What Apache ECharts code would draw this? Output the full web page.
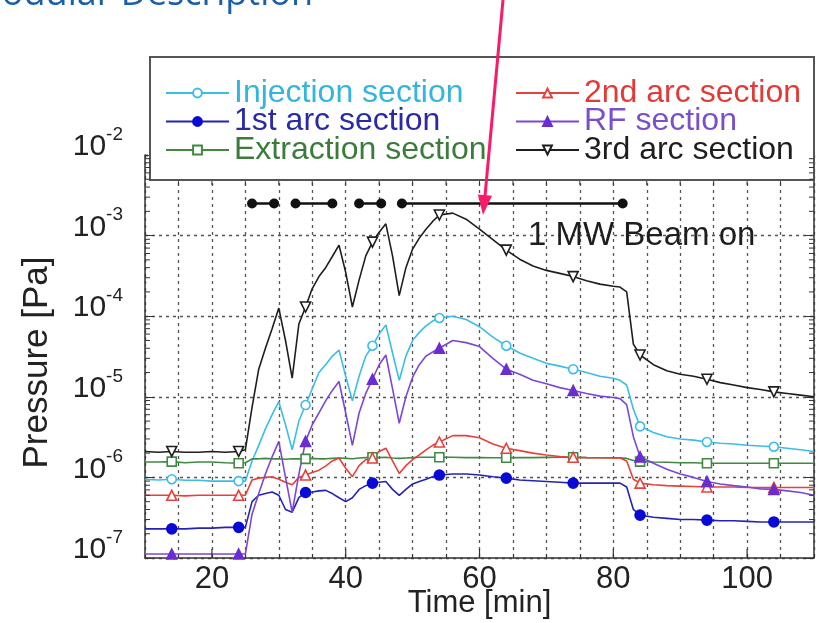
<!DOCTYPE html>
<html>
<head>
<meta charset="utf-8">
<script src="https://cdn.jsdelivr.net/npm/echarts@6/dist/echarts.min.js"></script>
<style>
  html, body { margin: 0; padding: 0; background: #fff; }
  #chart { width: 819px; height: 623px; }
</style>
</head>
<body>
<div id="chart"></div>
<script>
// Time axis of the pressure log [min]
const minutes = [10, 12, 14, 16, 18, 20, 22, 24,
  25, 26, 27, 28, 29, 30, 31, 32, 33, 34, 35, 36, 37, 38, 39, 40, 41, 42, 43, 44,
  45, 46, 47, 48, 49, 50, 51, 52, 53, 54,
  56, 58, 60, 62, 64, 66, 68, 70, 72, 74, 76, 78, 80,
  81, 82, 83, 84,
  86, 88, 90, 92, 94, 96, 98, 100, 102, 104, 106, 108, 110];

// Minutes at which a marker is drawn on each curve
const markerMinutes = [14, 24, 34, 44, 54, 64, 74, 84, 94, 104];

// Pressure per section [Pa]
const injection = [9.5e-7, 9.3e-7, 9.5e-7, 9.2e-7, 9.2e-7, 9.0e-7, 9.0e-7, 9.0e-7,
  9.0e-7, 1.6e-6, 2.5e-6, 4.0e-6, 6.0e-6, 8.7e-6, 4.5e-6, 2.2e-6, 5.0e-6, 7.9e-6, 1.26e-5, 2.0e-5,
  2.5e-5, 3.2e-5, 3.8e-5, 1.8e-5, 8.9e-6, 1.8e-5, 3.2e-5, 4.3e-5, 6.0e-5, 7.8e-5, 3.5e-5, 1.6e-5,
  3.2e-5, 5.0e-5, 6.3e-5, 7.6e-5, 8.7e-5, 9.5e-5,
  1.0e-4, 9.1e-5, 7.4e-5, 5.5e-5, 4.3e-5, 3.5e-5, 3.0e-5, 2.6e-5, 2.4e-5, 2.2e-5, 2.0e-5, 1.8e-5, 1.7e-5,
  1.6e-5, 1.4e-5, 7.0e-6, 4.3e-6,
  3.6e-6, 3.2e-6, 3.0e-6, 2.9e-6, 2.75e-6, 2.65e-6, 2.6e-6, 2.5e-6, 2.45e-6, 2.4e-6, 2.3e-6, 2.2e-6, 2.1e-6];

const firstArc = [2.3e-7, 2.3e-7, 2.3e-7, 2.3e-7, 2.35e-7, 2.35e-7, 2.4e-7, 2.4e-7,
  2.4e-7, 5.0e-7, 6.0e-7, 6.3e-7, 6.6e-7, 6.0e-7, 4.0e-7, 3.7e-7, 5.6e-7, 6.5e-7, 6.6e-7, 6.8e-7,
  6.9e-7, 6.3e-7, 5.6e-7, 5.0e-7, 5.6e-7, 7.1e-7, 7.9e-7, 8.5e-7, 8.7e-7, 8.9e-7, 7.1e-7, 6.0e-7,
  7.1e-7, 8.3e-7, 8.9e-7, 9.5e-7, 1.02e-6, 1.07e-6,
  1.1e-6, 1.1e-6, 1.07e-6, 1.02e-6, 9.8e-7, 9.3e-7, 9.1e-7, 8.9e-7, 8.7e-7, 8.5e-7, 8.5e-7, 8.5e-7, 8.5e-7,
  8.5e-7, 7.6e-7, 4.0e-7, 3.4e-7,
  3.2e-7, 3.1e-7, 3.0e-7, 3.0e-7, 2.95e-7, 2.9e-7, 2.9e-7, 2.85e-7, 2.8e-7, 2.8e-7, 2.8e-7, 2.8e-7, 2.8e-7];

const extraction = [1.55e-6, 1.55e-6, 1.57e-6, 1.52e-6, 1.55e-6, 1.55e-6, 1.52e-6, 1.5e-6,
  1.52e-6, 1.7e-6, 1.7e-6, 1.72e-6, 1.7e-6, 1.7e-6, 1.68e-6, 1.7e-6, 1.7e-6, 1.7e-6, 1.72e-6, 1.7e-6,
  1.7e-6, 1.72e-6, 1.74e-6, 1.72e-6, 1.7e-6, 1.74e-6, 1.76e-6, 1.78e-6, 1.76e-6, 1.78e-6, 1.74e-6, 1.72e-6,
  1.74e-6, 1.76e-6, 1.78e-6, 1.78e-6, 1.78e-6, 1.78e-6,
  1.78e-6, 1.76e-6, 1.76e-6, 1.75e-6, 1.75e-6, 1.76e-6, 1.76e-6, 1.77e-6, 1.78e-6, 1.78e-6, 1.76e-6, 1.75e-6, 1.75e-6,
  1.75e-6, 1.72e-6, 1.62e-6, 1.57e-6,
  1.55e-6, 1.54e-6, 1.52e-6, 1.52e-6, 1.5e-6, 1.5e-6, 1.5e-6, 1.5e-6, 1.5e-6, 1.5e-6, 1.5e-6, 1.5e-6, 1.5e-6];

const secondArc = [6.0e-7, 6.0e-7, 6.0e-7, 5.9e-7, 6.0e-7, 6.0e-7, 6.0e-7, 6.0e-7,
  6.0e-7, 9.3e-7, 9.8e-7, 1.0e-6, 1.02e-6, 9.5e-7, 8.7e-7, 8.1e-7, 1.0e-6, 1.07e-6, 1.15e-6, 1.23e-6,
  1.38e-6, 1.6e-6, 1.74e-6, 1.3e-6, 1.02e-6, 1.4e-6, 1.66e-6, 1.74e-6, 2.1e-6, 2.3e-6, 1.6e-6, 1.12e-6,
  1.4e-6, 1.66e-6, 1.9e-6, 2.2e-6, 2.5e-6, 2.75e-6,
  3.3e-6, 3.3e-6, 3.1e-6, 2.6e-6, 2.3e-6, 2.15e-6, 2.0e-6, 1.9e-6, 1.82e-6, 1.78e-6, 1.76e-6, 1.75e-6, 1.74e-6,
  1.74e-6, 1.6e-6, 9.5e-7, 8.5e-7,
  8.1e-7, 7.9e-7, 7.8e-7, 7.7e-7, 7.6e-7, 7.6e-7, 7.6e-7, 7.5e-7, 7.5e-7, 7.5e-7, 7.5e-7, 7.5e-7, 7.5e-7];

const rfSection = [1.12e-7, 1.12e-7, 1.12e-7, 1.12e-7, 1.12e-7, 1.12e-7, 1.12e-7, 1.12e-7,
  1.12e-7, 3.5e-7, 6.3e-7, 1.1e-6, 1.8e-6, 2.8e-6, 1.0e-6, 3.7e-7, 1.1e-6, 2.8e-6, 4.5e-6, 6.3e-6,
  8.9e-6, 1.2e-5, 1.55e-5, 6.3e-6, 2.5e-6, 6.3e-6, 1.1e-5, 1.65e-5, 2.5e-5, 3.3e-5, 1.26e-5, 4.7e-6,
  1.0e-5, 1.75e-5, 2.5e-5, 3.2e-5, 3.6e-5, 4.0e-5,
  5.0e-5, 4.7e-5, 4.2e-5, 3.0e-5, 2.2e-5, 1.9e-5, 1.6e-5, 1.45e-5, 1.3e-5, 1.2e-5, 1.1e-5, 1.02e-5, 9.8e-6,
  9.5e-6, 8.0e-6, 3.2e-6, 1.8e-6,
  1.5e-6, 1.26e-6, 1.1e-6, 1.0e-6, 8.9e-7, 8.3e-7, 7.9e-7, 7.6e-7, 7.2e-7, 7.1e-7, 6.8e-7, 6.5e-7, 6.0e-7];

const thirdArc = [2.1e-6, 2.05e-6, 2.1e-6, 2.05e-6, 2.05e-6, 2.1e-6, 2.05e-6, 2.1e-6,
  2.2e-6, 7.4e-6, 2.2e-5, 4.0e-5, 7.0e-5, 1.26e-4, 5.0e-5, 1.7e-5, 8.0e-5, 1.3e-4, 2.2e-4, 3.1e-4,
  4.0e-4, 5.5e-4, 7.6e-4, 3.5e-4, 1.3e-4, 2.8e-4, 5.6e-4, 8.3e-4, 1.1e-3, 1.4e-3, 5.6e-4, 1.8e-4,
  4.0e-4, 6.8e-4, 9.3e-4, 1.2e-3, 1.5e-3, 1.8e-3,
  1.9e-3, 1.6e-3, 1.2e-3, 8.9e-4, 6.6e-4, 5.1e-4, 4.2e-4, 3.7e-4, 3.4e-4, 3.1e-4, 2.75e-4, 2.5e-4, 2.35e-4,
  2.3e-4, 2.0e-4, 4.5e-5, 3.3e-5,
  2.5e-5, 2.1e-5, 1.9e-5, 1.8e-5, 1.65e-5, 1.5e-5, 1.4e-5, 1.3e-5, 1.23e-5, 1.15e-5, 1.1e-5, 1.05e-5, 1.0e-5];

// Beam-on periods [min] and the level where the bar is drawn [Pa]
const beamOnSpans = [[26, 29.3], [32.5, 38], [42, 45.3], [48.4, 81.4]];
const beamBarLevel = 2.5e-3;

// Axis labels and tick positions
const xTickLabels = [20, 40, 60, 80, 100];
const xMajorTicks = [20, 40, 60, 80, 100];
const xMinorTicks = [15, 20, 25, 30, 35, 40, 45, 50, 55, 60, 65, 70, 75, 80, 85, 90, 95, 100, 105];
const yDecades = [-7, -6, -5, -4, -3, -2];

const FONT = "'Liberation Sans', Arial, Helvetica, sans-serif";
const LEGEND_FRAME_BOTTOM = 180;

const sections = [
  { name: 'Injection section', values: injection, color: '#3cbde6', text: '#35b4de',
    symbol: 'circle', size: 9, filled: false },
  { name: '1st arc section', values: firstArc, color: '#2424b4', text: '#2a2aa6',
    symbol: 'circle', size: 10, filled: true, fill: '#0a0ad6' },
  { name: 'Extraction section', values: extraction, color: '#3f8a40', text: '#3b7c3c',
    symbol: 'rect', size: 9, filled: false },
  { name: '2nd arc section', values: secondArc, color: '#e8403a', text: '#e23a36',
    symbol: 'triangle', size: 10, filled: false },
  { name: 'RF section', values: rfSection, color: '#7c46d8', text: '#7a4fcc',
    symbol: 'triangle', size: 10, filled: true, fill: '#6a2ed0' },
  { name: '3rd arc section', values: thirdArc, color: '#1e1e1e', text: '#1e1e1e',
    symbol: 'path://M0,0 L10,0 L5,9 Z', size: 10, filled: false }
];

function curveData(values) {
  return minutes.map((t, i) => markerMinutes.includes(t)
    ? { value: [t, values[i]] }
    : { value: [t, values[i]], symbol: 'none' });
}

const curveSeries = sections.map(s => ({
  name: s.name,
  type: 'line',
  data: curveData(s.values),
  symbol: s.symbol,
  symbolSize: s.size,
  showAllSymbol: true,
  z: 3,
  lineStyle: { color: s.color, width: 1.6 },
  itemStyle: {
    color: s.filled ? s.fill : '#ffffff',
    borderColor: s.filled ? s.fill : s.color,
    borderWidth: 1.6
  },
  emphasis: { disabled: true }
}));

const beamSeries = beamOnSpans.map(span => ({
  type: 'line',
  data: [[span[0], beamBarLevel], [span[1], beamBarLevel]],
  symbol: 'circle',
  symbolSize: 10,
  z: 4,
  lineStyle: { color: '#111', width: 2.6 },
  itemStyle: { color: '#111' },
  emphasis: { disabled: true }
}));

// minor log ticks (2..9 per decade) on both vertical edges
const logMinorValues = [];
yDecades.slice(0, -1).forEach(k => {
  for (let m = 2; m <= 9; m++) logMinorValues.push([10, m * Math.pow(10, k)]);
});

const minorTickSeries = {
  type: 'custom',
  silent: true,
  z: 5,
  data: logMinorValues,
  renderItem: (params, api) => {
    const v = api.value(1);
    const l = api.coord([10, v]);
    const r = api.coord([110, v]);
    const st = { stroke: '#333', lineWidth: 1 };
    return { type: 'group', children: [
      { type: 'line', shape: { x1: l[0], y1: l[1], x2: l[0] + 5, y2: l[1] }, style: st },
      { type: 'line', shape: { x1: r[0] - 5, y1: r[1], x2: r[0], y2: r[1] }, style: st }
    ] };
  }
};

// longer ticks at the labelled minutes on the bottom axis
const majorXTickSeries = {
  type: 'custom',
  silent: true,
  z: 5,
  data: xMajorTicks.map(t => [t, 1e-7]),
  renderItem: (params, api) => {
    const p = api.coord([api.value(0), 1e-7]);
    return { type: 'line', shape: { x1: p[0], y1: p[1], x2: p[0], y2: p[1] - 9 },
      style: { stroke: '#333', lineWidth: 1.2 } };
  }
};

// short ticks hanging below the legend frame
const topXTickSeries = {
  type: 'custom',
  silent: true,
  z: 6,
  data: xMinorTicks.map(t => [t, 1e-7]),
  renderItem: (params, api) => {
    const p = api.coord([api.value(0), 1e-7]);
    return { type: 'line',
      shape: { x1: p[0], y1: LEGEND_FRAME_BOTTOM + 1, x2: p[0], y2: LEGEND_FRAME_BOTTOM + 5 },
      style: { stroke: '#333', lineWidth: 1 } };
  }
};

const legendText = { fontSize: 32, lineHeight: 28, fontFamily: FONT };
function legendBlock(list, left) {
  return {
    orient: 'vertical', left: left, top: 77, padding: 0,
    itemWidth: 63, itemHeight: 11, itemGap: -3.5, itemTextGap: 8,
    selectedMode: false, z: 10,
    textStyle: legendText,
    data: list.map(s => ({ name: s.name, textStyle: { color: s.text } }))
  };
}

const option = {
  animation: false,
  backgroundColor: '#ffffff',
  grid: { left: 145, right: 5, top: 155, bottom: 65, outerBoundsMode: 'none', containLabel: false },
  legend: [
    legendBlock([sections[0], sections[1], sections[2]], 165),
    legendBlock([sections[3], sections[4], sections[5]], 515)
  ],
  xAxis: {
    type: 'value', min: 10, max: 110, interval: 5, position: 'bottom',
    axisLine: { lineStyle: { color: '#333', width: 1.5 } },
    axisTick: { inside: true, length: 4, lineStyle: { color: '#333' } },
    axisLabel: {
      formatter: v => xTickLabels.includes(v) ? String(v) : '',
      fontSize: 31, color: '#222', fontFamily: FONT, margin: 6
    },
    splitLine: { show: true, lineStyle: { type: [3, 4], color: '#555', width: 1.3 } },
    name: 'Time [min]', nameLocation: 'middle', nameGap: 30, nameMoveOverlap: false,
    nameTextStyle: { fontSize: 31, color: '#222', fontFamily: FONT }
  },
  yAxis: [{
    type: 'log', logBase: 10, min: 1e-7, max: 1e-2,
    axisLine: { show: true, lineStyle: { color: '#333', width: 1.5 } },
    axisTick: { show: true, inside: true, length: 9, lineStyle: { color: '#333' } },
    axisLabel: {
      margin: 22,
      formatter: v => '{b|10}{s|' + Math.round(Math.log10(v)) + '}',
      rich: {
        b: { fontSize: 30, lineHeight: 30, padding: [7, 0, 23, 0], color: '#222', fontFamily: FONT },
        s: { fontSize: 19, lineHeight: 19, padding: [0, 0, 41, 0], color: '#222', fontFamily: FONT }
      }
    },
    splitLine: { show: true, lineStyle: { type: [3, 4], color: '#555', width: 1.3 } },
    name: 'Pressure [Pa]', nameLocation: 'middle', nameGap: 90, nameMoveOverlap: false,
    nameTextStyle: { fontSize: 35, color: '#222', fontFamily: FONT, padding: [0, 12, 0, 0] }
  }, {
    type: 'log', logBase: 10, min: 1e-7, max: 1e-2, position: 'right',
    axisLine: { show: true, lineStyle: { color: '#333', width: 1.5 } },
    axisTick: { show: true, inside: true, length: 9, lineStyle: { color: '#333' } },
    axisLabel: { show: false },
    splitLine: { show: false }
  }],
  graphic: [
    { type: 'rect', z: 3, silent: true,
      shape: { x: 150, y: 57, width: 664, height: LEGEND_FRAME_BOTTOM - 57 },
      style: { fill: '#ffffff', stroke: '#555', lineWidth: 2 } },
    { type: 'text', z: 20, silent: true,
      style: { text: 'Modular Description', x: 313, y: 13, align: 'right', verticalAlign: 'bottom',
        fontSize: 36, fontFamily: "'Open Sans', 'Noto Sans', sans-serif", fill: '#1b5fa8' } },
    { type: 'text', z: 20, silent: true,
      style: { text: '1 MW Beam on', x: 528, y: 236, align: 'left', verticalAlign: 'middle',
        fontSize: 33, fontFamily: FONT, fill: '#1e1e1e' } },
    { type: 'polyline', z: 30, silent: true,
      shape: { points: [[503, 0], [485, 196]] },
      style: { stroke: '#fa1a6a', lineWidth: 3 } },
    { type: 'polygon', z: 30, silent: true,
      shape: { points: [[483, 215], [492, 195.7], [477.9, 194.5]] },
      style: { fill: '#fa1a6a' } }
  ],
  series: [...curveSeries, ...beamSeries, minorTickSeries, majorXTickSeries, topXTickSeries]
};

const chart = echarts.init(document.getElementById('chart'), null, { renderer: 'canvas' });
chart.setOption(option);
</script>
</body>
</html>
